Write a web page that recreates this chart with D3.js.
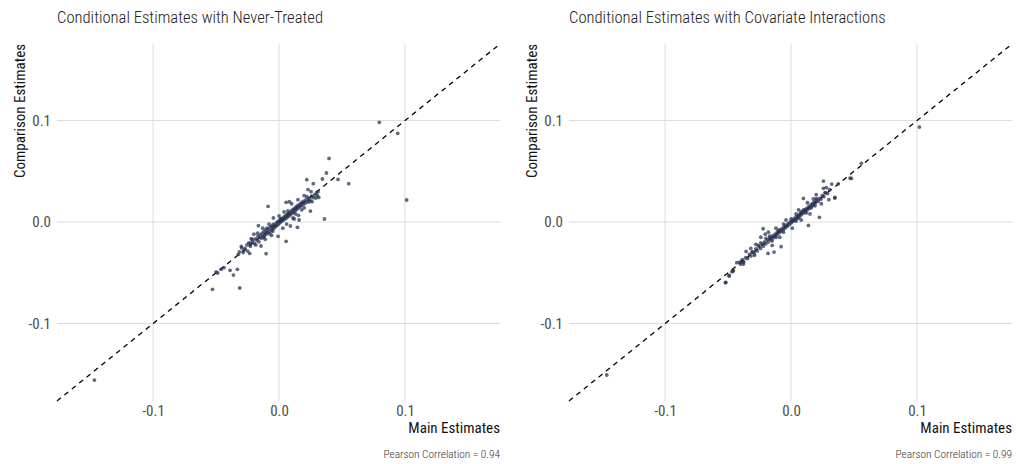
<!DOCTYPE html>
<html>
<head>
<meta charset="utf-8">
<script src="https://cdn.jsdelivr.net/npm/d3@7"></script>
<style>
  body { margin: 0; background: #fff; }
  svg text { font-family: "Roboto Condensed", Roboto, sans-serif; }
</style>
</head>
<body>
<svg id="chart" width="1018" height="464"></svg>
<script>
// Panel titles and captions
var titles = ["Conditional Estimates with Never-Treated", "Conditional Estimates with Covariate Interactions"];
var captions = ["Pearson Correlation = 0.94", "Pearson Correlation = 0.99"];
var tickVals = [-0.1, 0.0, 0.1];

// Left panel: main vs never-treated estimates
var mainNT = [
  -0.1466, 0.0796, 0.0942, 0.1013, 0.0397, 0.0376, 0.0468, 0.0553, 0.0220, 0.0272,
  0.0344, 0.0360, -0.0087, 0.0056, -0.0103, -0.0529, -0.0312, -0.0362, -0.0331, -0.0389,
  -0.0500, -0.0487, -0.0460, -0.0437, 0.0146, 0.0249, 0.0315, 0.0291, -0.0164, -0.0222,
  -0.0228, -0.0315, -0.0323, -0.0278, -0.0233, 0.0254, 0.0304, 0.0159, 0.0154, 0.0090,
  -0.0008, -0.0212, 0.0056, 0.0082, -0.0143, -0.0296, -0.0250, 0.0262, 0.0230, 0.0199,
  -0.0255, -0.0240, -0.0228, -0.0210, -0.0195, -0.0188, -0.0175, -0.0168, -0.0160, -0.0150,
  -0.0142, -0.0135, -0.0128, -0.0120, -0.0115, -0.0108, -0.0100, -0.0095, -0.0088, -0.0082,
  -0.0075, -0.0070, -0.0064, -0.0058, -0.0052, -0.0046, -0.0040, -0.0035, -0.0028, -0.0022,
  -0.0016, -0.0010, -0.0004, 0.0002, 0.0008, 0.0014, 0.0020, 0.0026, 0.0032, 0.0038,
  0.0044, 0.0050, 0.0056, 0.0062, 0.0068, 0.0074, 0.0080, 0.0086, 0.0092, 0.0098,
  0.0104, 0.0110, 0.0116, 0.0122, 0.0128, 0.0134, 0.0140, 0.0146, 0.0152, 0.0158,
  0.0164, 0.0170, 0.0176, 0.0182, 0.0190, 0.0198, 0.0206, 0.0215, 0.0224, 0.0235,
  0.0246, 0.0258, 0.0270, 0.0282, 0.0296, 0.0310, -0.0270, -0.0285, -0.0185, -0.0130,
  -0.0060, 0.0030, 0.0060, 0.0110, 0.0120, -0.0045, 0.0000, 0.0100, 0.0150, 0.0200,
  -0.0080, -0.0200, 0.0040, -0.0110, 0.0180, 0.0220, -0.0170, -0.0050, 0.0070, 0.0130,
  0.0240, -0.0300, -0.0120, 0.0010
];
var compNT = [
  -0.1557, 0.0982, 0.0874, 0.0217, 0.0627, 0.0483, 0.0420, 0.0378, 0.0417, 0.0378,
  0.0424, 0.0030, 0.0155, -0.0190, -0.0312, -0.0663, -0.0650, -0.0522, -0.0466, -0.0476,
  -0.0490, -0.0502, -0.0466, -0.0450, -0.0052, 0.0108, 0.0243, 0.0236, -0.0036, -0.0165,
  -0.0210, -0.0293, -0.0318, -0.0276, -0.0309, 0.0299, 0.0259, 0.0020, 0.0066, -0.0039,
  -0.0141, -0.0170, 0.0194, 0.0200, -0.0236, -0.0255, -0.0286, 0.0201, 0.0320, 0.0261,
  -0.0225, -0.0205, -0.0238, -0.0190, -0.0212, -0.0165, -0.0180, -0.0142, -0.0195, -0.0130,
  -0.0160, -0.0112, -0.0145, -0.0095, -0.0130, -0.0078, -0.0118, -0.0060, -0.0100, -0.0070,
  -0.0115, -0.0048, -0.0085, -0.0040, -0.0070, -0.0022, -0.0058, -0.0030, -0.0045, -0.0008,
  -0.0032, 0.0005, -0.0020, 0.0012, -0.0005, 0.0025, 0.0008, 0.0035, 0.0018, 0.0048,
  0.0028, 0.0060, 0.0040, 0.0072, 0.0052, 0.0085, 0.0062, 0.0095, 0.0075, 0.0110,
  0.0088, 0.0122, 0.0098, 0.0135, 0.0112, 0.0148, 0.0125, 0.0160, 0.0138, 0.0170,
  0.0150, 0.0182, 0.0160, 0.0195, 0.0172, 0.0205, 0.0185, 0.0220, 0.0198, 0.0232,
  0.0215, 0.0255, 0.0240, 0.0268, 0.0285, 0.0300, -0.0260, -0.0300, -0.0225, -0.0060,
  -0.0130, -0.0060, -0.0020, 0.0040, 0.0030, 0.0040, 0.0060, 0.0180, 0.0220, 0.0140,
  -0.0020, -0.0120, 0.0100, -0.0170, 0.0120, 0.0250, -0.0110, -0.0090, 0.0110, 0.0080,
  0.0200, -0.0240, -0.0150, 0.0030
];

// Right panel: main vs covariate-interaction estimates
var mainCI = [
  -0.1463, 0.1019, 0.0558, 0.0479, 0.0468, 0.0257, 0.0347, 0.0225, 0.0138, 0.0098,
  -0.0222, -0.0079, -0.0135, -0.0183, -0.0357, -0.0310, -0.0290, -0.0431, -0.0383, -0.0378,
  -0.0463, -0.0492, -0.0521, -0.0518, -0.0492, -0.0470, -0.0458, 0.0323, 0.0375, 0.0349,
  0.0177, 0.0257, 0.0270, -0.0410, -0.0400, -0.0395, -0.0385, -0.0375, -0.0360, -0.0345,
  -0.0330, -0.0318, -0.0305, -0.0292, -0.0280, -0.0268, -0.0255, -0.0242, -0.0230, -0.0220,
  -0.0210, -0.0200, -0.0190, -0.0180, -0.0170, -0.0160, -0.0150, -0.0142, -0.0134, -0.0126,
  -0.0118, -0.0110, -0.0102, -0.0094, -0.0086, -0.0078, -0.0070, -0.0062, -0.0054, -0.0046,
  -0.0038, -0.0030, -0.0022, -0.0014, -0.0006, 0.0002, 0.0010, 0.0018, 0.0026, 0.0034,
  0.0042, 0.0050, 0.0058, 0.0066, 0.0074, 0.0082, 0.0090, 0.0098, 0.0106, 0.0114,
  0.0122, 0.0130, 0.0138, 0.0146, 0.0154, 0.0162, 0.0170, 0.0178, 0.0186, 0.0195,
  0.0205, 0.0215, 0.0225, 0.0236, 0.0248, 0.0260, 0.0275, 0.0290, 0.0305, -0.0240,
  -0.0200, -0.0150, -0.0100, -0.0060, 0.0000, 0.0040, 0.0080, 0.0120, 0.0160, 0.0200,
  -0.0170, -0.0120, 0.0060, 0.0100, -0.0260, 0.0190, -0.0240, -0.0205, -0.0150, -0.0120,
  -0.0090, -0.0040, 0.0010, 0.0060, 0.0080, 0.0130, 0.0150, 0.0200, 0.0240, 0.0280,
  0.0300, -0.0280, -0.0320, -0.0180, 0.0040, -0.0060
];
var compCI = [
  -0.1507, 0.0936, 0.0578, 0.0430, 0.0433, 0.0404, 0.0236, 0.0046, -0.0033, 0.0233,
  -0.0066, -0.0243, -0.0296, -0.0309, -0.0289, -0.0296, -0.0328, -0.0400, -0.0390, -0.0414,
  -0.0480, -0.0529, -0.0598, -0.0594, -0.0529, -0.0490, -0.0480, 0.0374, 0.0377, 0.0243,
  0.0227, 0.0332, 0.0290, -0.0397, -0.0415, -0.0385, -0.0370, -0.0392, -0.0352, -0.0360,
  -0.0318, -0.0335, -0.0295, -0.0310, -0.0265, -0.0285, -0.0242, -0.0260, -0.0218, -0.0238,
  -0.0195, -0.0215, -0.0175, -0.0196, -0.0158, -0.0175, -0.0140, -0.0155, -0.0128, -0.0140,
  -0.0110, -0.0122, -0.0092, -0.0105, -0.0078, -0.0090, -0.0062, -0.0075, -0.0046, -0.0058,
  -0.0030, -0.0042, -0.0015, -0.0025, 0.0002, -0.0008, 0.0018, 0.0008, 0.0035, 0.0024,
  0.0052, 0.0040, 0.0068, 0.0056, 0.0085, 0.0072, 0.0100, 0.0088, 0.0116, 0.0104,
  0.0132, 0.0120, 0.0150, 0.0136, 0.0166, 0.0152, 0.0184, 0.0168, 0.0198, 0.0188,
  0.0216, 0.0204, 0.0232, 0.0225, 0.0262, 0.0250, 0.0288, 0.0280, 0.0318, -0.0205,
  -0.0160, -0.0185, -0.0080, -0.0100, 0.0030, 0.0010, 0.0100, 0.0090, 0.0140, 0.0230,
  -0.0140, -0.0150, 0.0040, 0.0120, -0.0230, 0.0160, -0.0150, -0.0120, -0.0230, -0.0060,
  -0.0150, 0.0020, -0.0060, 0.0120, 0.0020, 0.0190, 0.0080, 0.0270, 0.0180, 0.0340,
  0.0220, -0.0220, -0.0260, -0.0100, 0.0080, -0.0020
];

var svg = d3.select("#chart");
var lim = [-0.1763, 0.1754];

function drawPanel(left, title, caption, mainVals, compVals) {
  var right = left + 443;
  var top = 44, bottom = 401;

  var x = d3.scaleLinear().domain(lim).range([left, right]);
  var y = d3.scaleLinear().domain(lim).range([bottom, top]);

  var g = svg.append("g");

  // gridlines
  g.selectAll(".vgrid").data(tickVals).enter().append("line")
    .attr("x1", d => x(d)).attr("x2", d => x(d))
    .attr("y1", top).attr("y2", bottom)
    .attr("stroke", "#dcdcdc").attr("stroke-width", 1);
  g.selectAll(".hgrid").data(tickVals).enter().append("line")
    .attr("y1", d => y(d)).attr("y2", d => y(d))
    .attr("x1", left).attr("x2", right)
    .attr("stroke", "#dcdcdc").attr("stroke-width", 1);

  // axes (labels only)
  var fmt = d => d.toFixed(1);
  var xAxis = g.append("g")
    .attr("transform", "translate(0," + bottom + ")")
    .call(d3.axisBottom(x).tickValues(tickVals).tickFormat(fmt).tickSize(0).tickPadding(4));
  var yAxis = g.append("g")
    .attr("transform", "translate(" + left + ",0)")
    .call(d3.axisLeft(y).tickValues(tickVals).tickFormat(fmt).tickSize(0).tickPadding(6));
  [xAxis, yAxis].forEach(a => {
    a.select(".domain").remove();
    a.selectAll("text").attr("font-size", 15).attr("fill", "#4d4d4d")
      .style("font-family", "'Roboto Condensed', Roboto, sans-serif");
  });

  // 45 degree reference line
  g.append("line")
    .attr("x1", x(lim[0])).attr("y1", y(lim[0]))
    .attr("x2", x(lim[1])).attr("y2", y(lim[1]))
    .attr("stroke", "#000").attr("stroke-width", 1.3)
    .attr("stroke-dasharray", "5,4.5");

  // points
  g.selectAll(".pt").data(mainVals).enter().append("circle")
    .attr("cx", d => x(d))
    .attr("cy", (d, i) => y(compVals[i]))
    .attr("r", 1.9)
    .attr("fill", "#26304f")
    .attr("fill-opacity", 0.72);

  // titles
  g.append("text")
    .attr("x", left).attr("y", 23)
    .attr("font-size", 16.6).attr("font-weight", 300).attr("fill", "#222")
    .text(title);
  g.append("text")
    .attr("transform", "translate(" + (left - 32) + "," + top + ") rotate(-90)")
    .attr("text-anchor", "end")
    .attr("font-size", 15).attr("fill", "#111")
    .text("Comparison Estimates");
  g.append("text")
    .attr("x", right).attr("y", 433)
    .attr("text-anchor", "end")
    .attr("font-size", 15).attr("fill", "#111")
    .text("Main Estimates");
  g.append("text")
    .attr("x", right).attr("y", 458)
    .attr("text-anchor", "end")
    .attr("font-size", 11.3).attr("font-weight", 300).attr("fill", "#333")
    .text(caption);
}

drawPanel(57, titles[0], captions[0], mainNT, compNT);
drawPanel(569, titles[1], captions[1], mainCI, compCI);
</script>
</body>
</html>
